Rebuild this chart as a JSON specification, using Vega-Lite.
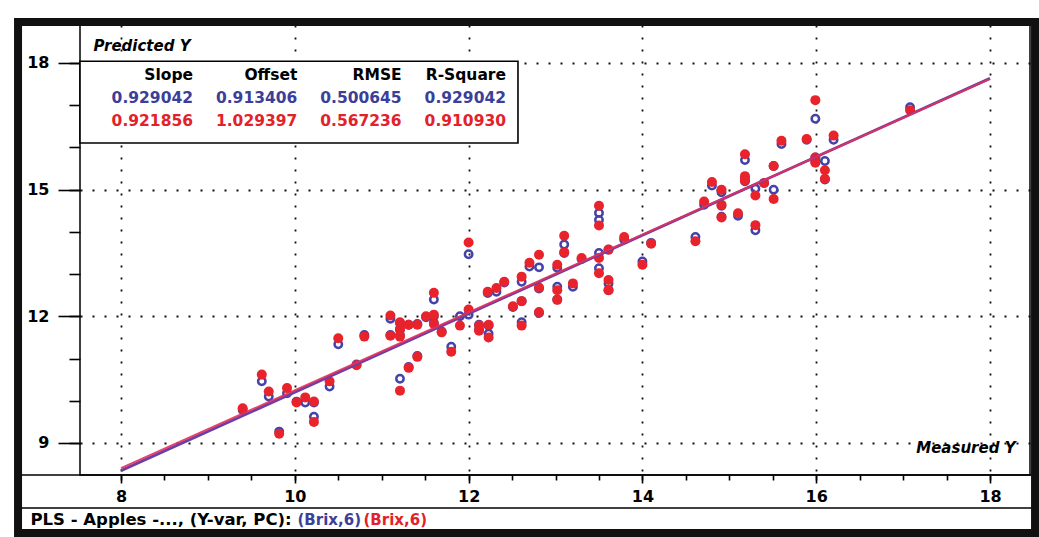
{
  "$schema": "https://vega.github.io/schema/vega-lite/v6.json",
  "width": 950,
  "height": 450,
  "autosize": {"type": "none"},
  "padding": {"left": 80, "top": 25, "right": 9, "bottom": 62},
  "background": "#ffffff",
  "config": {
    "view": {"stroke": "#000000", "strokeWidth": 1.5},
    "font": "DejaVu Sans",
    "axis": {"tickColor": "#000000", "domainColor": "#000000", "labelColor": "#000000", "titleColor": "#000000"}
  },
  "datasets": {
    "pts": [
      {"m":9.40,"cal":9.78,"val":9.82},
      {"m":9.62,"cal":10.46,"val":10.62},
      {"m":9.70,"cal":10.10,"val":10.22},
      {"m":9.82,"cal":9.27,"val":9.22},
      {"m":9.91,"cal":10.18,"val":10.30},
      {"m":10.02,"cal":9.98,"val":9.96},
      {"m":10.12,"cal":9.96,"val":10.08},
      {"m":10.22,"cal":9.96,"val":9.98},
      {"m":10.22,"cal":9.62,"val":9.50},
      {"m":10.40,"cal":10.34,"val":10.46},
      {"m":10.50,"cal":11.34,"val":11.48},
      {"m":10.71,"cal":10.86,"val":10.84},
      {"m":10.80,"cal":11.56,"val":11.52},
      {"m":11.10,"cal":11.94,"val":12.02},
      {"m":11.10,"cal":11.56,"val":11.54},
      {"m":11.21,"cal":11.84,"val":11.86},
      {"m":11.21,"cal":11.70,"val":11.68},
      {"m":11.21,"cal":11.55,"val":11.52},
      {"m":11.21,"cal":10.52,"val":10.24},
      {"m":11.31,"cal":10.80,"val":10.78},
      {"m":11.41,"cal":11.06,"val":11.04},
      {"m":11.31,"cal":11.80,"val":11.80},
      {"m":11.41,"cal":11.82,"val":11.80},
      {"m":11.51,"cal":11.98,"val":12.00},
      {"m":11.60,"cal":12.40,"val":12.56},
      {"m":11.60,"cal":12.00,"val":12.04},
      {"m":11.60,"cal":11.84,"val":11.82},
      {"m":11.69,"cal":11.64,"val":11.62},
      {"m":11.80,"cal":11.28,"val":11.16},
      {"m":11.90,"cal":12.00,"val":11.78},
      {"m":12.00,"cal":13.47,"val":13.75},
      {"m":12.00,"cal":12.04,"val":12.16},
      {"m":12.12,"cal":11.80,"val":11.78},
      {"m":12.12,"cal":11.68,"val":11.66},
      {"m":12.23,"cal":11.78,"val":11.80},
      {"m":12.23,"cal":11.59,"val":11.50},
      {"m":12.22,"cal":12.55,"val":12.58},
      {"m":12.32,"cal":12.58,"val":12.67},
      {"m":12.41,"cal":12.80,"val":12.82},
      {"m":12.51,"cal":12.22,"val":12.24},
      {"m":12.61,"cal":12.82,"val":12.94},
      {"m":12.61,"cal":12.36,"val":12.36},
      {"m":12.61,"cal":11.86,"val":11.78},
      {"m":12.70,"cal":13.18,"val":13.27},
      {"m":12.81,"cal":13.16,"val":13.46},
      {"m":12.81,"cal":12.66,"val":12.68},
      {"m":12.81,"cal":12.08,"val":12.10},
      {"m":13.02,"cal":13.15,"val":13.22},
      {"m":13.02,"cal":12.70,"val":12.62},
      {"m":13.02,"cal":12.40,"val":12.39},
      {"m":13.10,"cal":13.70,"val":13.91},
      {"m":13.10,"cal":13.50,"val":13.52},
      {"m":13.20,"cal":12.70,"val":12.78},
      {"m":13.30,"cal":13.36,"val":13.38},
      {"m":13.50,"cal":14.45,"val":14.62},
      {"m":13.50,"cal":14.28,"val":14.15},
      {"m":13.50,"cal":13.50,"val":13.38},
      {"m":13.50,"cal":13.14,"val":13.02},
      {"m":13.61,"cal":13.58,"val":13.58},
      {"m":13.61,"cal":12.78,"val":12.86},
      {"m":13.61,"cal":12.62,"val":12.62},
      {"m":13.79,"cal":13.82,"val":13.88},
      {"m":14.00,"cal":13.30,"val":13.22},
      {"m":14.10,"cal":13.74,"val":13.72},
      {"m":14.61,"cal":13.88,"val":13.78},
      {"m":14.71,"cal":14.64,"val":14.72},
      {"m":14.80,"cal":15.10,"val":15.18},
      {"m":14.91,"cal":14.94,"val":15.00},
      {"m":14.91,"cal":14.62,"val":14.64},
      {"m":14.91,"cal":14.36,"val":14.34},
      {"m":15.10,"cal":14.38,"val":14.44},
      {"m":15.18,"cal":15.70,"val":15.84},
      {"m":15.18,"cal":15.26,"val":15.32},
      {"m":15.18,"cal":15.20,"val":15.22},
      {"m":15.30,"cal":15.02,"val":14.86},
      {"m":15.30,"cal":14.04,"val":14.16},
      {"m":15.40,"cal":15.16,"val":15.16},
      {"m":15.51,"cal":15.56,"val":15.56},
      {"m":15.51,"cal":15.00,"val":14.78},
      {"m":15.60,"cal":16.08,"val":16.16},
      {"m":15.89,"cal":16.18,"val":16.20},
      {"m":15.99,"cal":16.68,"val":17.12},
      {"m":15.99,"cal":15.76,"val":15.76},
      {"m":15.99,"cal":15.66,"val":15.64},
      {"m":16.10,"cal":15.68,"val":15.46},
      {"m":16.10,"cal":15.24,"val":15.26},
      {"m":16.20,"cal":16.18,"val":16.28},
      {"m":17.08,"cal":16.95,"val":16.88}
    ],
    "lines": [
      {"set":"cal","x":8,"y":8.345742},
      {"set":"cal","x":18,"y":17.636162},
      {"set":"val","x":8,"y":8.404245},
      {"set":"val","x":18,"y":17.622805}
    ],
    "stats": [
      {"stat":"Slope","row":"header","text":"Slope"},
      {"stat":"Offset","row":"header","text":"Offset"},
      {"stat":"RMSE","row":"header","text":"RMSE"},
      {"stat":"R-Square","row":"header","text":"R-Square"},
      {"stat":"Slope","row":"cal","text":"0.929042"},
      {"stat":"Offset","row":"cal","text":"0.913406"},
      {"stat":"RMSE","row":"cal","text":"0.500645"},
      {"stat":"R-Square","row":"cal","text":"0.929042"},
      {"stat":"Slope","row":"val","text":"0.921856"},
      {"stat":"Offset","row":"val","text":"1.029397"},
      {"stat":"RMSE","row":"val","text":"0.567236"},
      {"stat":"R-Square","row":"val","text":"0.910930"}
    ]
  },
  "layer": [
    {
      "layer": [
        {
          "data": {"name": "pts"},
          "mark": {"type": "point", "shape": "circle", "filled": false, "stroke": "#4343aa", "strokeWidth": 2.5, "size": 55, "opacity": 1},
          "encoding": {
            "x": {"field": "m", "type": "quantitative",
              "scale": {"domain": [7.528, 18.46], "nice": false, "zero": false},
              "axis": {"orient": "bottom", "values": [8,10,12,14,16,18], "tickSize": 8, "tickWidth": 1.6, "domain": false,
                "labelFont": "DejaVu Sans", "labelFontSize": 16, "labelFontWeight": "bold", "labelPadding": 5, "labelFlush": false, "labelOverlap": false,
                "grid": true, "gridDash": [2, 10], "gridColor": "#111111", "gridWidth": 1.8, "gridOpacity": 1,
                "title": "Measured Y", "titleFont": "DejaVu Sans", "titleFontSize": 15, "titleFontStyle": "italic", "titleFontWeight": "bold",
                "titleX": 935, "titleY": -28, "titleAlign": "right", "titleBaseline": "middle", "titleAngle": 0}},
            "y": {"field": "cal", "type": "quantitative",
              "scale": {"domain": [8.242, 18.9], "nice": false, "zero": false},
              "axis": {"orient": "left", "values": [9,12,15,18], "tickSize": 22, "tickWidth": 1.6, "domain": false,
                "labelFont": "DejaVu Sans", "labelFontSize": 16, "labelFontWeight": "bold", "labelPadding": 9, "labelFlush": false, "labelOverlap": false,
                "grid": true, "gridDash": [2, 10], "gridColor": "#111111", "gridWidth": 1.8, "gridOpacity": 1,
                "title": "Predicted Y", "titleFont": "DejaVu Sans", "titleFontSize": 15, "titleFontStyle": "italic", "titleFontWeight": "bold",
                "titleAngle": 0, "titleX": 13, "titleY": 20, "titleAlign": "left", "titleBaseline": "middle"}}
          }
        },
        {
          "data": {"name": "pts"},
          "mark": {"type": "circle", "fill": "#e8232b", "size": 100, "opacity": 1},
          "encoding": {
            "x": {"field": "m", "type": "quantitative",
              "axis": {"orient": "bottom", "values": [8,8.5,9,9.5,10,10.5,11,11.5,12,12.5,13,13.5,14,14.5,15,15.5,16,16.5,17,17.5,18], "tickSize": 5, "tickWidth": 1.6,
                "labels": false, "domain": false, "grid": false, "title": null}},
            "y": {"field": "val", "type": "quantitative",
              "axis": {"orient": "left", "values": [9,10,11,12,13,14,15,16,17,18], "tickSize": 11, "tickWidth": 1.6,
                "labels": false, "domain": false, "grid": false,
                "title": "(Brix,6)", "titleFont": "DejaVu Sans", "titleFontSize": 15, "titleFontWeight": "bold", "titleColor": "#e3212a",
                "titleAngle": 0, "titleX": 283, "titleY": 494, "titleAlign": "left", "titleBaseline": "middle"}}
          }
        },
        {
          "data": {"name": "lines"},
          "transform": [{"filter": "datum.set === 'cal'"}],
          "mark": {"type": "line", "stroke": "#6c3fa6", "strokeWidth": 2.8},
          "encoding": {
            "x": {"field": "x", "type": "quantitative",
              "axis": {"orient": "bottom", "domain": false, "ticks": false, "labels": false, "grid": false,
                "title": "PLS - Apples -..., (Y-var, PC):", "titleFont": "DejaVu Sans", "titleFontSize": 16.5, "titleFontWeight": "bold", "titleColor": "#000000",
                "titleX": -50, "titleY": 44, "titleAlign": "left", "titleBaseline": "middle", "titleAngle": 0}},
            "y": {"field": "y", "type": "quantitative", "axis": null}
          }
        },
        {
          "data": {"name": "lines"},
          "transform": [{"filter": "datum.set === 'val'"}],
          "mark": {"type": "line", "stroke": "#e2305c", "strokeWidth": 2, "opacity": 0.9},
          "encoding": {
            "x": {"field": "x", "type": "quantitative",
              "axis": {"orient": "bottom", "domain": false, "ticks": false, "labels": false, "grid": false,
                "title": "(Brix,6)", "titleFont": "DejaVu Sans", "titleFontSize": 15, "titleFontWeight": "bold", "titleColor": "#3b3f9a",
                "titleX": 217, "titleY": 44, "titleAlign": "left", "titleBaseline": "middle", "titleAngle": 0}},
            "y": {"field": "y", "type": "quantitative", "axis": null}
          }
        },
        {
          "data": {"values": [{}]},
          "mark": {"type": "rect", "fill": "#ffffff", "stroke": "#000000", "strokeWidth": 1.6},
          "encoding": {
            "x": {"datum": 7.528, "type": "quantitative", "axis": null},
            "x2": {"datum": 12.568},
            "y": {"datum": 18.04, "type": "quantitative", "axis": null},
            "y2": {"datum": 16.105}
          }
        },
        {
          "data": {"values": [{}]},
          "mark": {"type": "rule", "stroke": "#000000", "strokeWidth": 1.6},
          "encoding": {
            "x": {"datum": 6.815, "type": "quantitative", "axis": null},
            "x2": {"datum": 18.518},
            "y": {"datum": 8.242, "type": "quantitative", "axis": null}
          }
        },
        {
          "data": {"values": [{}]},
          "mark": {"type": "rule", "stroke": "#000000", "strokeWidth": 1.6},
          "encoding": {
            "x": {"datum": 6.815, "type": "quantitative", "axis": null},
            "x2": {"datum": 18.518},
            "y": {"datum": 7.46, "type": "quantitative", "axis": null}
          }
        },
        {
          "data": {"values": [{}]},
          "mark": {"type": "rect", "fill": null, "fillOpacity": 0, "stroke": "#111111", "strokeWidth": 8},
          "encoding": {
            "x": {"datum": 6.815, "type": "quantitative", "axis": null},
            "x2": {"datum": 18.518},
            "y": {"datum": 18.971, "type": "quantitative", "axis": null},
            "y2": {"datum": 6.868}
          }
        }
      ],
      "resolve": {"axis": {"x": "independent", "y": "independent"}}
    },
    {
      "data": {"name": "stats"},
      "mark": {"type": "text", "align": "right", "baseline": "middle", "font": "DejaVu Sans", "fontSize": 15.5, "fontWeight": "bold"},
      "encoding": {
        "x": {"field": "stat", "type": "nominal",
          "scale": {"type": "point", "domain": ["Slope", "Offset", "RMSE", "R-Square"], "range": [113, 426], "padding": 0}, "axis": null},
        "y": {"field": "row", "type": "nominal",
          "scale": {"type": "point", "domain": ["header", "cal", "val"], "range": [50, 96], "padding": 0}, "axis": null},
        "text": {"field": "text"},
        "color": {"field": "row", "type": "nominal",
          "scale": {"domain": ["header", "cal", "val"], "range": ["#000000", "#3b3f9a", "#e3212a"]}, "legend": null}
      }
    }
  ],
  "resolve": {"scale": {"x": "independent", "y": "independent", "color": "independent"}}
}
